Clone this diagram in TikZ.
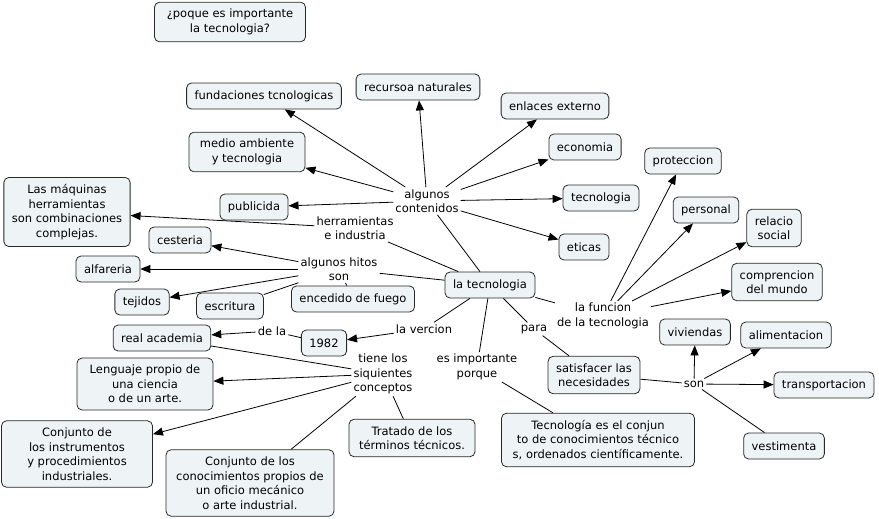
\documentclass[tikz,border=0pt]{standalone}
\usepackage{fontspec}
\setmainfont{DejaVu Sans}
\usetikzlibrary{arrows.meta}
\definecolor{boxfill}{RGB}{238,243,246}
\definecolor{boxline}{RGB}{40,40,40}
\begin{document}
\begin{tikzpicture}[
			x=1pt, y=-1pt,
			font=\fontsize{11.5}{14.5}\selectfont,
			main/.style = {draw=boxline, fill=boxfill, rounded corners=5pt, line width=0.8pt, align=center, inner xsep=8pt, inner ysep=7pt, minimum height=26pt},
			phrase/.style = {align=center, inner sep=2pt},
			arr/.style = {draw, line width=0.8pt, -{Triangle[length=10pt,width=8pt]}},
			lin/.style = {draw, line width=0.8pt},
			]
			\useasboundingbox (0,0) rectangle (879,519);
			% concepts
			\node[main, minimum width=151pt] (titulo) at (230,22) {¿poque es importante\\ la tecnologia?};
			\node[main] (tec) at (490,285) {la tecnologia};
			\node[main] (fund) at (264,96) {fundaciones tcnologicas};
			\node[main] (rec) at (418,87) {recursoa naturales};
			\node[main] (enl) at (555,106) {enlaces externo};
			\node[main] (eco) at (585,147) {economia};
			\node[main, minimum width=116pt] (medio) at (247,152) {medio ambiente\\ y tecnologia};
			\node[main] (pub) at (254,207) {publicida};
			\node[main] (tecno) at (601,198) {tecnologia};
			\node[main] (eti) at (584,247) {eticas};
			\node[main] (maq) at (67,212) {Las máquinas\\ herramientas\\ son combinaciones\\ complejas.};
			\node[main] (ces) at (180,240) {cesteria};
			\node[main] (alf) at (108,269) {alfareria};
			\node[main] (tej) at (142,302) {tejidos};
			\node[main] (esc) at (230,306) {escritura};
			\node[main] (fuego) at (353,299) {encedido de fuego};
			\node[main] (real) at (162,338) {real academia};
			\node[main] (anio) at (324,343) {1982};
			\node[main, minimum width=136pt] (leng) at (145,384) {Lenguaje propio de\\ una ciencia\\ o de un arte.};
			\node[main, minimum width=151pt] (instr) at (77,454) {Conjunto de\\ los instrumentos\\ y procedimientos\\ industriales.};
			\node[main, minimum width=168pt] (conoc) at (250,483) {Conjunto de los\\ conocimientos propios de\\ un oficio mecánico\\ o arte industrial.};
			\node[main, minimum width=126pt] (trat) at (412,438) {Tratado de los\\ términos técnicos.};
			\node[main, minimum width=193pt] (defi) at (598,440) {Tecnología es el conjun\\ to de conocimientos técnico\\ s, ordenados científicamente.};
			\node[main] (satis) at (594,375) {satisfacer las\\ necesidades};
			\node[main] (prot) at (683,161) {proteccion};
			\node[main] (pers) at (706,210) {personal};
			\node[main] (rel) at (774,228) {relacio\\ social};
			\node[main] (comp) at (777,282) {comprencion\\ del mundo};
			\node[main] (viv) at (695,332) {viviendas};
			\node[main] (alim) at (786,335) {alimentacion};
			\node[main] (trans) at (824,385) {transportacion};
			\node[main] (vest) at (784,446) {vestimenta};
			% linking phrases
			\node[phrase] (cont) at (427,201) {algunos\\ contenidos};
			\node[phrase] (herr) at (355,228) {herramientas\\ e industria};
			\node[phrase] (hitos) at (339,269) {algunos hitos\\ son};
			\node[phrase] (verc) at (424,329) {la vercion};
			\node[phrase] (dela) at (272,331) {de la};
			\node[phrase] (tiene) at (383,374) {tiene los\\ siquientes\\ conceptos};
			\node[phrase] (porq) at (477,367) {es importante\\ porque};
			\node[phrase] (para) at (534,329) {para};
			\node[phrase] (func) at (603,316) {la funcion\\ de la tecnologia};
			\node[phrase] (son) at (694,384) {son};
			% connectors
			\draw[lin] (tec) -- (cont);
			\draw[lin] (tec) -- (herr);
			\draw[lin] (tec) -- (hitos);
			\draw[lin] (tec) -- (verc);
			\draw[lin] (tec) -- (porq);
			\draw[lin] (tec) -- (para);
			\draw[lin] (tec) -- (func);
			\draw[arr] (cont) -- (fund);
			\draw[arr] (cont) -- (rec);
			\draw[arr] (cont) -- (medio);
			\draw[arr] (cont) -- (pub);
			\draw[arr] (cont) -- (enl);
			\draw[arr] (cont) -- (eco);
			\draw[arr] (cont) -- (tecno);
			\draw[arr] (cont) -- (eti);
			\draw[arr] (herr) -- (maq);
			\draw[arr] (hitos) -- (ces);
			\draw[arr] (hitos) -- (alf);
			\draw[arr] (hitos) -- (tej);
			\draw[lin] (hitos) -- (esc);
			\draw[lin] (hitos) -- (fuego);
			\draw[arr] (verc) -- (anio);
			\draw[lin] (anio) -- (dela);
			\draw[arr] (dela) -- (real);
			\draw[lin] (real) -- (tiene);
			\draw[arr] (tiene) -- (leng);
			\draw[arr] (tiene) -- (instr);
			\draw[lin] (tiene) -- (conoc);
			\draw[lin] (tiene) -- (trat);
			\draw[lin] (porq) -- (defi);
			\draw[lin] (para) -- (satis);
			\draw[lin] (satis) -- (son);
			\draw[arr] (son) -- (viv);
			\draw[arr] (son) -- (alim);
			\draw[arr] (son) -- (trans);
			\draw[lin] (son) -- (vest);
			\draw[arr] (func) -- (prot);
			\draw[arr] (func) -- (pers);
			\draw[arr] (func) -- (rel);
			\draw[arr] (func) -- (comp);
		\end{tikzpicture}
\end{document}
